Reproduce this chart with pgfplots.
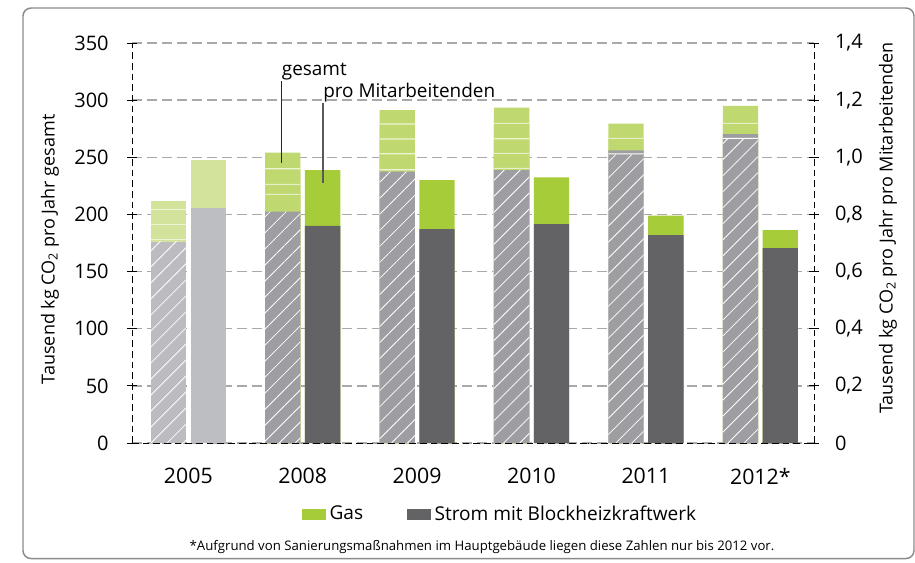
\documentclass[border=0pt]{standalone}
\usepackage{fontspec}
\setmainfont{Open Sans}
\usepackage{pgfplots}
\pgfplotsset{compat=1.18}
\usetikzlibrary{patterns.meta}

\definecolor{gasgreen}{HTML}{A7CC39}
\definecolor{lgreen}{HTML}{BFD86F}
\definecolor{vlgreen}{HTML}{D3E39B}
\definecolor{sepc}{HTML}{EDF3D5}
\definecolor{dgrey}{HTML}{636366}
\definecolor{hgrey}{HTML}{9E9EA2}
\definecolor{lhgrey}{HTML}{BCBCC0}
\definecolor{lpgrey}{HTML}{BDBEC2}
\definecolor{gridc}{HTML}{A9A9A9}
\definecolor{framec}{HTML}{8A8A8A}

\pgfplotsset{
  layers/mylayers/.define layer set={axis background,axis grid,main,axis ticks,axis lines,axis tick labels,axis descriptions,axis foreground}{/pgfplots/layers/standard},
  hatched/.style={fill=#1, draw=none, postaction={pattern={Lines[angle=45,distance=8.5pt,line width=0.6pt]}, pattern color=white}},
  gbar/.style={fill=#1, draw=none, bar shift=-0.174},
  common/.style={
    set layers=mylayers,
    at={(99pt,-332.25pt)}, anchor=south west,
    scale only axis, width=511.5pt, height=300pt,
    xmin=-0.492, xmax=5.469,
    ybar, bar width=0.309,
    axis line style={black, line width=0.6pt, dash pattern=on 5pt off 3pt},
    tick align=center, major tick length=7pt,
    ytick style={black, solid, line width=0.6pt},
    tick label style={font=\fontsize{15}{18}\selectfont},
  },
}

\begin{document}
\begin{tikzpicture}

% ---------- left axis: gesamt ----------
\begin{axis}[common,
  ymin=0, ymax=350,
  axis x line*=bottom, axis y line*=left,
  /pgf/number format/assume math mode=true,
  ytick={0,50,...,350},
  xtick={0,...,5}, xticklabels={2005,2008,2009,2010,2011,2012*},
  xtick style={draw=none},
  xticklabel style={font=\fontsize{16}{19}\selectfont, yshift=-12pt},
  yticklabel style={xshift=-10.5pt},
  ymajorgrids, grid style={gridc, line width=1pt, dash pattern=on 7.5pt off 3.75pt},
  ylabel={Tausend kg CO\textsubscript{2} pro Jahr gesamt},
  ylabel style={at={(rel axis cs:-0.1202,0.484)}, anchor=center, font=\fontsize{13.5}{16}\selectfont},
]
% 2005 gesamt: green segments separated by thin light lines, hatched grey base
\addplot[gbar=vlgreen] coordinates {(0,211.7)};
\addplot[gbar=sepc] coordinates {(0,205.0)};
\addplot[gbar=vlgreen] coordinates {(0,204.0)};
\addplot[gbar=sepc] coordinates {(0,191.5)};
\addplot[gbar=vlgreen] coordinates {(0,190.5)};
\addplot[gbar=sepc] coordinates {(0,178.5)};
\addplot[gbar=vlgreen] coordinates {(0,177.5)};
\addplot[hatched=lhgrey, bar shift=-0.174] coordinates {(0,176)};
% 2008-2012 gesamt
\addplot[gbar=lgreen] coordinates {(1,254)(2,291.3)(3,293.4)(4,279.5)(5,295)};
\addplot[gbar=sepc] coordinates {(1,240.5)(2,279.6)(3,280.2)(4,267.1)(5,280.2)};
\addplot[gbar=lgreen] coordinates {(1,239.5)(2,278.6)(3,279.2)(4,266.1)(5,279.2)};
\addplot[gbar=sepc] coordinates {(1,226.8)(2,266.5)(3,266.7)};
\addplot[gbar=lgreen] coordinates {(1,225.8)(2,265.5)(3,265.7)};
\addplot[gbar=sepc] coordinates {(1,218.1)(2,253.6)(3,253.9)};
\addplot[gbar=lgreen] coordinates {(1,217.1)(2,252.6)(3,252.9)};
\addplot[gbar=sepc] coordinates {(2,239.6)(3,240.8)};
\addplot[gbar=lgreen] coordinates {(2,238.6)(3,239.8)};
\addplot[gbar=hgrey] coordinates {(4,256)(5,270.3)};
\addplot[gbar=white] coordinates {(4,253.5)(5,267)};
\addplot[hatched=hgrey, bar shift=-0.174] coordinates {(1,202.4)(2,237.5)(3,238.8)(4,252.5)(5,266)};

% grid extensions and group separators
\pgfplotsinvokeforeach{0,50,...,350}{
  \draw[gridc, line width=1pt, dash pattern=on 5pt off 3pt] (axis cs:-0.492,#1) -- ++(-12.75pt,0pt);
  \draw[gridc, line width=1pt, dash pattern=on 5pt off 3pt] (axis cs:5.469,#1) -- ++(9pt,0pt);
}
\pgfplotsinvokeforeach{-0.492,0.5,1.5,2.5,3.5,4.5,5.469}{
  \draw[black, line width=0.6pt] (axis cs:#1,0) -- ++(0pt,-12.75pt);
}
\end{axis}

% ---------- right axis: pro Mitarbeitenden ----------
\begin{axis}[common,
  ymin=0, ymax=1.4,
  axis x line=none, axis y line*=right,
  ytick={0,0.2,0.4,0.6,0.8,1.0,1.2,1.4},
  yticklabels={0,{0,2},{0,4},{0,6},{0,8},{1,0},{1,2},{1,4}},
  yticklabel style={xshift=8.75pt},
  ylabel={Tausend kg CO\textsubscript{2} pro Jahr pro Mitarbeitenden},
  ylabel style={at={(rel axis cs:1.1085,0.5375)}, anchor=center, font=\fontsize{13.5}{16}\selectfont},
  legend style={at={(rel axis cs:0.243,-0.1775)}, anchor=west, draw=none, fill=none,
    legend columns=-1, font=\fontsize{14.3}{17}\selectfont,
    /tikz/every odd column/.append style={column sep=1pt},
    /tikz/every even column/.append style={column sep=31pt}},
]
\addlegendimage{legend image code/.code={\fill[gasgreen] (0pt,-3.75pt) rectangle (17.25pt,3.75pt);}}
\addlegendentry{Gas}
\addlegendimage{legend image code/.code={\fill[dgrey] (0pt,-3.75pt) rectangle (17.25pt,3.75pt);}}
\addlegendentry{Strom mit Blockheizkraftwerk}

\addplot[fill=vlgreen, draw=none, bar shift=0.174, forget plot] coordinates {(0,0.99)};
\addplot[fill=lpgrey, draw=none, bar shift=0.174, forget plot] coordinates {(0,0.824)};
\addplot[fill=gasgreen, draw=none, bar shift=0.174, forget plot] coordinates {(1,0.955)(2,0.920)(3,0.930)(4,0.796)(5,0.745)};
\addplot[fill=dgrey, draw=none, bar shift=0.174, forget plot] coordinates {(1,0.760)(2,0.749)(3,0.766)(4,0.728)(5,0.682)};

% annotations
\draw[black!85, line width=1pt] (axis cs:0.816,1.268) -- (axis cs:0.816,0.979);
\draw[black!65, line width=1.4pt] (axis cs:1.1775,1.189) -- (axis cs:1.1775,0.911);
\node[anchor=base west, inner sep=0pt, font=\fontsize{14.2}{17}\selectfont] at (axis cs:0.816,1.288) {gesamt};
\node[anchor=base west, inner sep=0pt, font=\fontsize{14.2}{17}\selectfont] at (axis cs:1.1775,1.21) {pro Mitarbeitenden};
\end{axis}

\node[font=\fontsize{9.9}{12}\selectfont] at (361.5pt,-410.25pt) {*Aufgrund von Sanierungsmaßnahmen im Hauptgebäude liegen diese Zahlen nur bis 2012 vor.};
\draw[framec, line width=1.1pt, rounded corners=6pt] (17.25pt,-6pt) rectangle (685.5pt,-418.9pt);

\pgfresetboundingbox
\path[use as bounding box] (0pt,0pt) rectangle (686.25pt,-421.5pt);
\end{tikzpicture}
\end{document}
